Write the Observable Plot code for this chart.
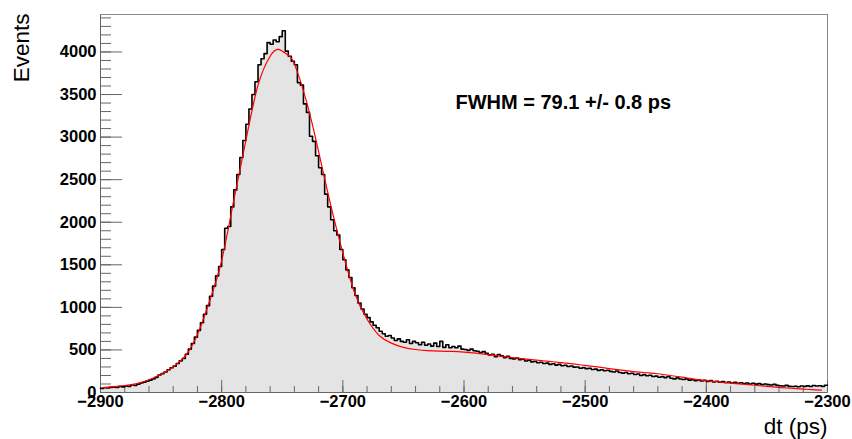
<!DOCTYPE html>
<html>
<head>
<meta charset="utf-8">
<script src="https://cdn.jsdelivr.net/npm/d3@7"></script>
<script src="https://cdn.jsdelivr.net/npm/@observablehq/plot@0.6"></script>
<style>
  html, body { margin: 0; padding: 0; background: #fff; }
  #chart { width: 852px; height: 439px; }
</style>
</head>
<body>
<div id="chart"></div>
<script>
// ---- data ----
const binStart = -2900;
const binWidth = 2.5;
const counts = [
  48, 55, 52, 60,   62, 58, 70, 66,   78, 72, 88, 84,   98, 112, 120, 132,
  145, 160, 178, 205,   222, 240, 268, 290,   310, 340, 372, 400,   450, 510, 575, 650,
  730, 820, 920, 1020,   1130, 1250, 1370, 1480,   1680, 1930, 1950, 2180,   2380, 2560, 2760, 2960,
  3150, 3330, 3500, 3650,   3850, 3920, 3980, 4110,   4090, 4140, 4120, 4180,   4250, 4010, 3950, 3890,
  3850, 3640, 3610, 3390,   3290, 3010, 2950, 2780,   2640, 2560, 2330, 2180,   2030, 1900, 1850, 1680,
  1560, 1440, 1350, 1230,   1140, 1050, 980, 920,   880, 830, 790, 760,   720, 690, 660, 670,
  640, 610, 630, 600,   590, 620, 575, 600,   585, 560, 590, 555,   570, 545, 580, 540,
  600, 530, 560, 525,   540, 525, 545, 510,   505, 495, 510, 490,   485, 470, 480, 460,
  440, 450, 420, 445,   430, 410, 425, 400,   395, 405, 385, 390,   370, 380, 360, 365,
  350, 355, 340, 345,   330, 338, 322, 330,   315, 320, 305, 312,   298, 300, 285, 292,
  280, 285, 270, 275,   260, 268, 255, 262,   248, 240, 252, 235,   228, 235, 220, 226,
  212, 218, 200, 210,   196, 202, 188, 192,   180, 186, 175, 188,   168, 160, 172, 158,
  152, 160, 145, 150,   140, 148, 135, 142,   130, 140, 125, 132,   120, 128, 118, 124,
  112, 120, 108, 115,   106, 112, 100, 108,   98, 104, 94, 100,   92, 88, 96, 84,
  80, 76, 84, 72,   70, 74, 68, 76,   72, 78, 70, 82,   76, 80, 72, 85
];
const fitX = [-2898, -2890, -2880, -2870, -2860, -2850, -2840, -2830, -2820, -2810, -2800, -2790, -2780, -2770, -2760, -2753, -2745, -2740, -2730, -2720, -2710, -2700, -2690, -2680, -2670, -2660, -2650, -2640, -2630, -2620, -2610, -2600, -2590, -2580, -2570, -2560, -2550, -2540, -2530, -2520, -2510, -2500, -2490, -2480, -2470, -2460, -2450, -2440, -2430, -2420, -2410, -2400, -2390, -2380, -2370, -2360, -2350, -2340, -2330, -2320, -2310, -2305];
const fitY = [58, 68, 82, 105, 150, 215, 300, 430, 680, 1070, 1550, 2260, 2960, 3610, 3950, 4030, 3960, 3860, 3420, 2830, 2200, 1640, 1160, 860, 670, 580, 530, 505, 492, 487, 483, 475, 462, 445, 428, 410, 394, 380, 366, 352, 336, 318, 300, 281, 262, 245, 232, 220, 200, 180, 158, 140, 124, 110, 98, 85, 72, 60, 50, 40, 32, 28];
const xTicks = [-2900, -2800, -2700, -2600, -2500, -2400, -2300];
const yTicks = [0, 500, 1000, 1500, 2000, 2500, 3000, 3500, 4000];
const xLabel = "dt (ps)";
const yLabel = "Events";
const fitLabel = "FWHM = 79.1 +/- 0.8 ps";

// ---- derived tables ----
const hist = counts.map((c, i) => ({x: binStart + i * binWidth, y: c}));
hist.push({x: binStart + counts.length * binWidth, y: counts[counts.length - 1]});
const fit = fitX.map((x, i) => ({x, y: fitY[i]}));
const xMinor = d3.range(-2900, -2299, 20);
const yMinor = d3.range(0, 4441, 100);

const font = "'Liberation Sans', Arial, Helvetica, sans-serif";
const tickColor = "#666";

const chart = Plot.plot({
  width: 852,
  height: 439,
  marginLeft: 100,
  marginRight: 25,
  marginTop: 14,
  marginBottom: 47,
  style: {fontFamily: font, background: "#fff", color: "#000", overflow: "visible"},
  x: {domain: [-2900, -2300], axis: null},
  y: {domain: [0, 4440], axis: null},
  marks: [
    Plot.areaY(hist, {x: "x", y: "y", curve: "step-after", fill: "#e4e4e4"}),
    Plot.frame({stroke: "#8a8a8a"}),
    Plot.axisY({ticks: yMinor, tickSize: -11, fill: "none", stroke: tickColor, label: null}),
    Plot.axisY({ticks: yTicks, tickSize: -22, fill: "none", stroke: tickColor, label: null}),
    Plot.axisX({ticks: xMinor, tickSize: -6, fill: "none", stroke: tickColor, label: null}),
    Plot.axisX({ticks: xTicks, tickSize: -12, fill: "none", stroke: tickColor, label: null}),
    Plot.ruleX([-2900], {stroke: tickColor}),
    Plot.ruleY([0], {stroke: tickColor}),
    Plot.lineY(hist, {x: "x", y: "y", curve: "step-after", stroke: "#000", strokeWidth: 1.6}),
    Plot.line(fit, {x: "x", y: "y", curve: "natural", stroke: "#ff0000", strokeWidth: 1.2}),
    Plot.axisY({ticks: yTicks, tickSize: 0, tickPadding: 4, tickFormat: d3.format("d"), label: null,
      fill: "#000", fontSize: 16.5, fontWeight: "bold"}),
    Plot.axisX({ticks: xTicks, tickSize: 0, tickPadding: 3, tickFormat: d3.format("d"), label: null,
      fill: "#000", fontSize: 16.5, fontWeight: "bold"}),
    Plot.text([fitLabel], {frameAnchor: "top-left", text: d => d, dx: 355, dy: 80,
      textAnchor: "start", lineAnchor: "top", fontSize: 20, fontWeight: "bold", fill: "#000"}),
    Plot.text([yLabel], {frameAnchor: "top-left", text: d => d, rotate: -90, dx: -79, dy: -1,
      textAnchor: "end", lineAnchor: "middle", fontSize: 22.5, fill: "#000"}),
    Plot.text([xLabel], {frameAnchor: "bottom-right", text: d => d, dy: 26,
      textAnchor: "end", lineAnchor: "top", fontSize: 22.5, fill: "#000"})
  ]
});
document.getElementById("chart").appendChild(chart);
</script>
</body>
</html>
